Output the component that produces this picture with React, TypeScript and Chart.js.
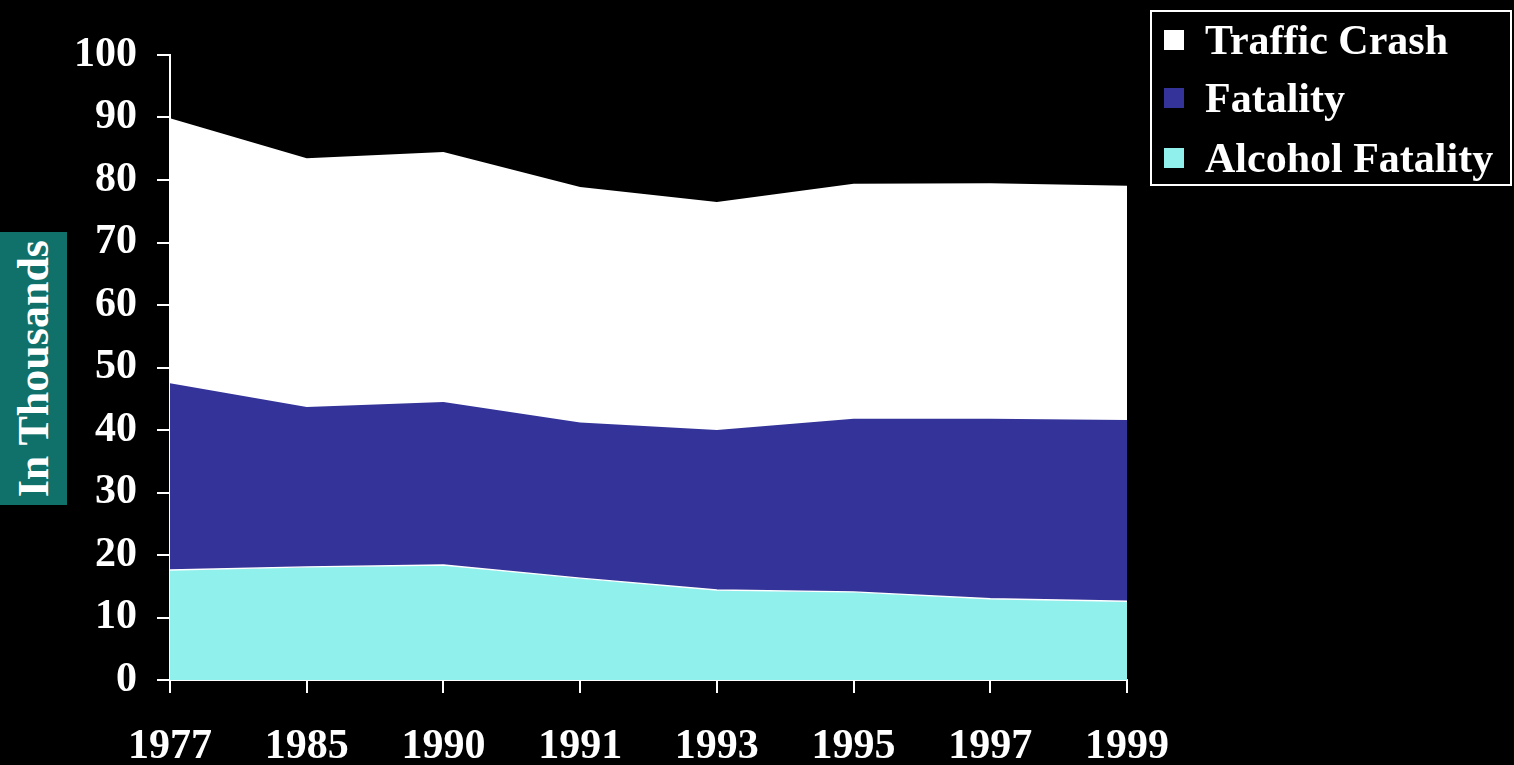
import React, { useEffect, useRef } from "react";
import { Chart, registerables } from "chart.js";

Chart.register(...registerables);

// Survey years on the category axis
const years = ["1977", "1985", "1990", "1991", "1993", "1995", "1997", "1999"];

// Values in thousands
const trafficCrash = [89.9, 83.5, 84.5, 78.9, 76.5, 79.4, 79.5, 79.1];
const fatality = [47.5, 43.7, 44.5, 41.2, 40.0, 41.8, 41.8, 41.6];
const alcoholFatality = [17.6, 18.1, 18.4, 16.3, 14.4, 14.1, 13.0, 12.6];

// Value axis range
const yMin = 0;
const yMax = 100;
const yStep = 10;

const seriesNames = ["Traffic Crash", "Fatality", "Alcohol Fatality"];
const seriesColors = ["#ffffff", "#333399", "#90F0EC"];

const serif = "'Liberation Serif', 'Times New Roman', Times, serif";
const W = 1514;
const H = 765;

export default function App() {
  const canvasRef = useRef<HTMLCanvasElement | null>(null);

  useEffect(() => {
    const canvas = canvasRef.current;
    if (!canvas) return;
    const chart = new Chart(canvas, {
      type: "line",
      data: {
        labels: years,
        datasets: [
          {
            label: seriesNames[0],
            data: trafficCrash,
            backgroundColor: seriesColors[0],
            borderColor: seriesColors[0],
            borderWidth: 0,
            fill: "origin",
            pointRadius: 0,
            tension: 0,
            order: 3,
          },
          {
            label: seriesNames[1],
            data: fatality,
            backgroundColor: seriesColors[1],
            borderColor: seriesColors[1],
            borderWidth: 0,
            fill: "origin",
            pointRadius: 0,
            tension: 0,
            order: 2,
          },
          {
            label: seriesNames[2],
            data: alcoholFatality,
            backgroundColor: seriesColors[2],
            borderColor: "#ffffff",
            borderWidth: 1.5,
            fill: "origin",
            pointRadius: 0,
            tension: 0,
            order: 1,
          },
        ],
      },
      options: {
        responsive: false,
        animation: false,
        devicePixelRatio: 1,
        layout: { padding: { left: 0, right: 387, top: 55, bottom: 0 } },
        plugins: {
          legend: { display: false },
          tooltip: { enabled: false },
        },
        scales: {
          x: {
            offset: false,
            afterFit: (scale: any) => {
              scale.height = 85;
            },
            grid: {
              drawOnChartArea: false,
              drawTicks: true,
              tickLength: 13,
              color: "#ffffff",
              lineWidth: 2,
            },
            border: { display: true, color: "#ffffff", width: 2 },
            ticks: {
              color: "#ffffff",
              padding: 29,
              maxRotation: 0,
              autoSkip: false,
              font: { family: serif, size: 42, weight: "bold" },
            },
          },
          y: {
            min: yMin,
            max: yMax,
            afterFit: (scale: any) => {
              scale.width = 170;
            },
            grid: {
              drawOnChartArea: false,
              drawTicks: true,
              tickLength: 13,
              color: "#ffffff",
              lineWidth: 2,
            },
            border: { display: true, color: "#ffffff", width: 2 },
            ticks: {
              stepSize: yStep,
              color: "#ffffff",
              padding: 20,
              font: { family: serif, size: 42, weight: "bold" },
            },
          },
        },
      },
    });
    return () => chart.destroy();
  }, []);

  const legendRowCenters = [40, 98, 158];

  return (
    <div
      style={{
        position: "fixed",
        left: 0,
        top: 0,
        width: W,
        height: H,
        background: "#000000",
        overflow: "hidden",
      }}
    >
      <canvas
        ref={canvasRef}
        width={W}
        height={H}
        style={{ position: "absolute", left: 0, top: 0, width: W, height: H }}
      />
      {/* Axis title on a teal band */}
      <div
        style={{
          position: "absolute",
          left: 0,
          top: 232,
          width: 67,
          height: 273,
          background: "#10706A",
          display: "flex",
          alignItems: "center",
          justifyContent: "center",
        }}
      >
        <span
          style={{
            writingMode: "vertical-rl",
            transform: "rotate(180deg)",
            color: "#ffffff",
            fontFamily: serif,
            fontWeight: "bold",
            fontSize: 44,
            lineHeight: 1,
            whiteSpace: "nowrap",
          }}
        >
          In Thousands
        </span>
      </div>
      {/* Legend */}
      <div
        style={{
          position: "absolute",
          left: 1150,
          top: 10,
          width: 362,
          height: 176,
          border: "2px solid #ffffff",
          boxSizing: "border-box",
        }}
      >
        {seriesNames.map((name, i) => (
          <div
            key={name}
            style={{
              position: "absolute",
              left: 0,
              top: legendRowCenters[i] - 10 - 2 - 25,
              height: 50,
              display: "flex",
              alignItems: "center",
              whiteSpace: "nowrap",
            }}
          >
            <div
              style={{
                marginLeft: 11,
                width: 22,
                height: 22,
                background: seriesColors[i],
                border: "1px solid #000000",
                boxSizing: "border-box",
              }}
            />
            <span
              style={{
                marginLeft: 20,
                color: "#ffffff",
                fontFamily: serif,
                fontWeight: "bold",
                fontSize: 42,
                lineHeight: "50px",
              }}
            >
              {name}
            </span>
          </div>
        ))}
      </div>
    </div>
  );
}
